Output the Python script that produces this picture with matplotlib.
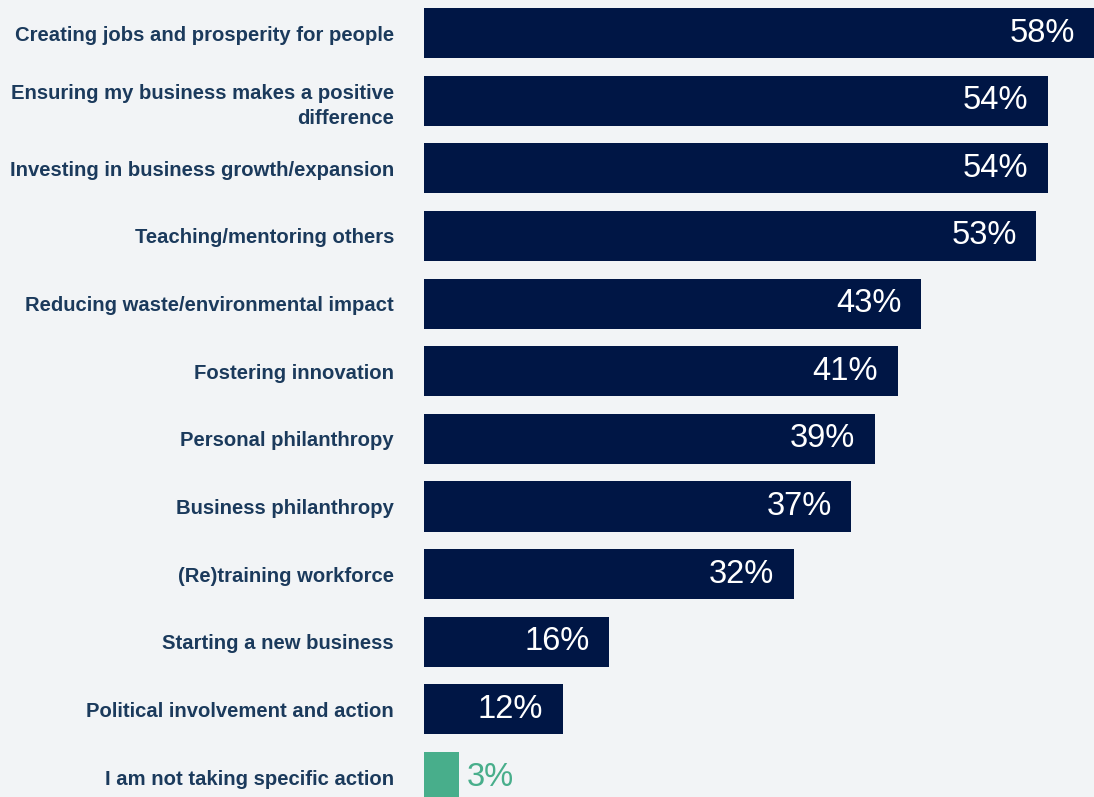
import matplotlib
matplotlib.use("Agg")
import matplotlib.pyplot as plt

categories = [
    "Creating jobs and prosperity for people",
    "Ensuring my business makes a positive\ndifference",
    "Investing in business growth/expansion",
    "Teaching/mentoring others",
    "Reducing waste/environmental impact",
    "Fostering innovation",
    "Personal philanthropy",
    "Business philanthropy",
    "(Re)training workforce",
    "Starting a new business",
    "Political involvement and action",
    "I am not taking specific action",
]
values = [58, 54, 54, 53, 43, 41, 39, 37, 32, 16, 12, 3]

NAVY = "#001645"
GREEN = "#48ae8b"
BG = "#f2f4f6"
LABEL = "#1b3a5c"

plt.rcParams["font.family"] = ["Liberation Sans", "DejaVu Sans"]

fig = plt.figure(figsize=(10.94, 7.97), dpi=100, facecolor=BG)
ax = fig.add_axes([424 / 1094, 0.0, 1 - 424 / 1094, 1.0])
ax.set_facecolor(BG)

colors = [GREEN if c.startswith("I am not") else NAVY for c in categories]
ypos = list(range(len(categories)))
bars = ax.barh(ypos, values, height=0.74, color=colors, edgecolor="none")

ax.set_xlim(0, max(values))
ax.set_ylim(11.295, -0.488)

for b, v in zip(bars, values):
    y = b.get_y() + b.get_height() / 2
    if v >= 6:
        ax.annotate(f"{v}%", (v, y), xytext=(-14, 0), textcoords="offset points",
                    ha="right", va="center", color="white", fontsize=23.5)
    else:
        ax.annotate(f"{v}%", (v, y), xytext=(6, 0), textcoords="offset points",
                    ha="left", va="center", color=b.get_facecolor(), fontsize=23.5)

ax.set_yticks(ypos)
ax.set_yticklabels(categories, fontsize=14.6, fontweight="bold", color=LABEL,
                   ha="right", multialignment="right", linespacing=1.45)
ax.tick_params(axis="y", length=0, pad=21.6)
ax.set_xticks([])
for s in ax.spines.values():
    s.set_visible(False)

fig.savefig("out.png", dpi=100, facecolor=BG)
